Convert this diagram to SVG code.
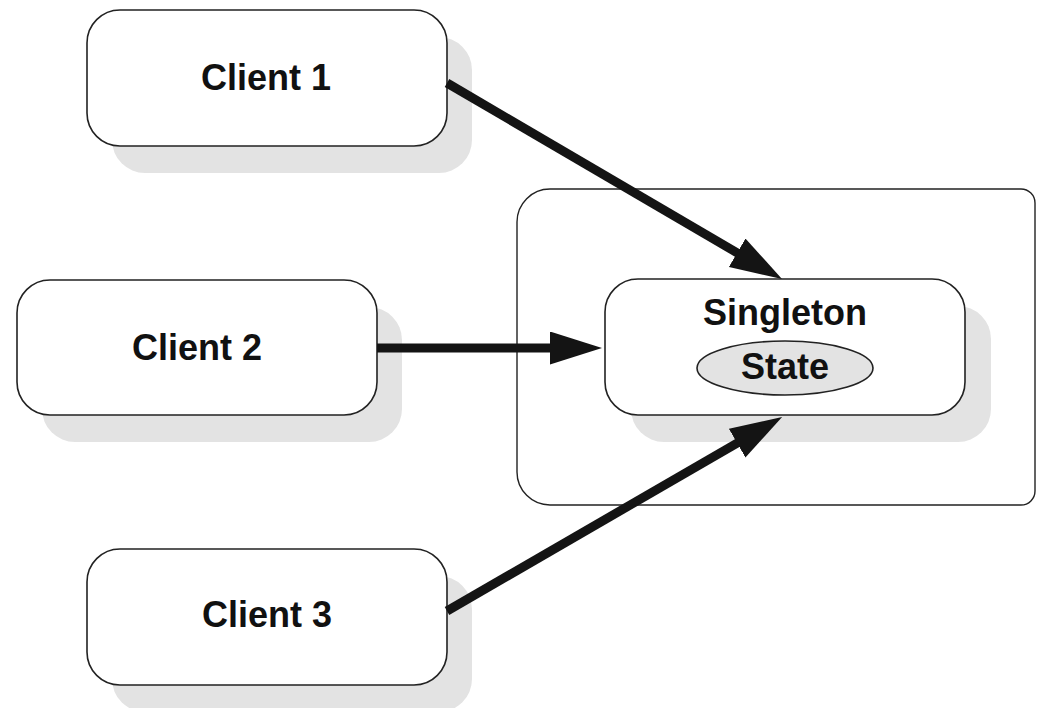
<svg xmlns="http://www.w3.org/2000/svg" width="1037" height="708" viewBox="0 0 1037 708">
<style>
.box{fill:#fff;stroke:#222;stroke-width:1.6}
.shadow{fill:#e3e3e3}
.lbl{font-family:"Liberation Sans",Arial,sans-serif;font-weight:bold;font-size:36px;fill:#111;text-anchor:middle}
.conn{stroke:#141414;stroke-width:9;fill:none}
</style>
<defs>
<marker id="ah" markerUnits="userSpaceOnUse" markerWidth="54" markerHeight="34" refX="1" refY="16.5" orient="auto">
<path d="M0,0 L52,16.5 L0,33 z" fill="#141414"/>
</marker>
</defs>
<rect width="1037" height="708" fill="#fff"/>
<g id="container">
<path d="M550,189 H1021 A14,14 0 0 1 1035,203 V491 A14,14 0 0 1 1021,505 H550 A33,33 0 0 1 517,472 V222 A33,33 0 0 1 550,189 Z" fill="#fff" stroke="#222" stroke-width="1.4"/>
</g>
<g id="client1">
<rect class="shadow" x="112" y="37" width="360" height="136" rx="33"/>
<rect class="box" x="87" y="10" width="360" height="136" rx="33"/>
<text class="lbl" x="266" y="90">Client 1</text>
</g>
<g id="client2">
<rect class="shadow" x="42" y="307" width="360" height="135" rx="33"/>
<rect class="box" x="17" y="280" width="360" height="135" rx="33"/>
<text class="lbl" x="197" y="360">Client 2</text>
</g>
<g id="client3">
<rect class="shadow" x="112" y="576" width="360" height="136" rx="33"/>
<rect class="box" x="87" y="549" width="360" height="136" rx="33"/>
<text class="lbl" x="267" y="627">Client 3</text>
</g>
<g id="singleton">
<rect class="shadow" x="631" y="306" width="360" height="136" rx="33"/>
<rect class="box" x="605" y="279" width="360" height="136" rx="33"/>
<text class="lbl" x="785" y="325">Singleton</text>
<g id="state">
<ellipse cx="785" cy="368" rx="88" ry="27" fill="#e3e3e3" stroke="#222" stroke-width="1.6"/>
<text class="lbl" x="785" y="379">State</text>
</g>
</g>
<g id="connectors">
<line class="conn" x1="447" y1="83" x2="738" y2="253.3" marker-end="url(#ah)"/>
<line class="conn" x1="377" y1="348" x2="551" y2="348" marker-end="url(#ah)"/>
<line class="conn" x1="447" y1="611" x2="738" y2="442.6" marker-end="url(#ah)"/>
</g>
</svg>
